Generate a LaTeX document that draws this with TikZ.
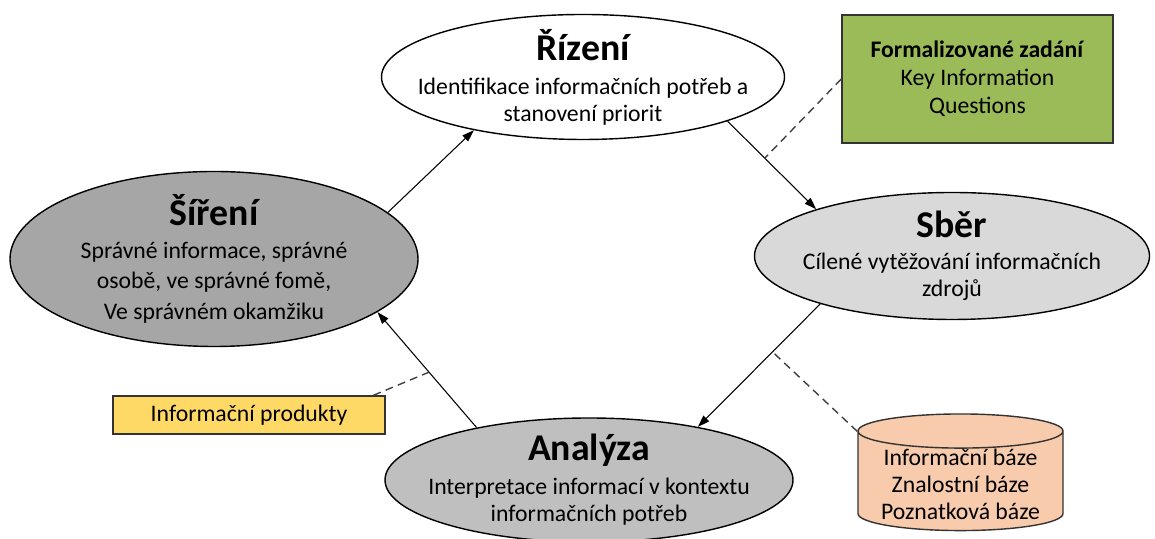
\documentclass[tikz,border=0pt]{standalone}
\usepackage{fontspec}
\setmainfont{Carlito}
\usetikzlibrary{arrows.meta, shapes.geometric}
\definecolor{sirenigray}{HTML}{A6A6A6}
\definecolor{sbergray}{HTML}{D9D9D9}
\definecolor{analyzagray}{HTML}{BFBFBF}
\definecolor{kiqgreen}{HTML}{9BBB59}
\definecolor{produktyellow}{HTML}{FFD966}
\definecolor{bazepeach}{HTML}{F8CBAD}
\newcommand{\phasetitle}[1]{{\fontsize{21.5}{24}\selectfont\bfseries #1}}

\begin{document}
\begin{tikzpicture}[
      phase/.style={ellipse, draw, line width=0.8pt},
      phasetext/.style={align=center, font=\fontsize{13.5}{15.3}\selectfont, inner sep=0pt},
      note/.style={rectangle, draw=black!80, line width=0.8pt, align=center, font=\fontsize{13.5}{16}\selectfont},
      arrow/.style={-{Triangle[length=2.4mm, width=1.6mm]}, line width=0.6pt},
      link/.style={dash pattern=on 4.5pt off 3pt, line width=0.8pt, draw=black!75}
    ]
    \useasboundingbox (0,0) rectangle (23.1,10.78);

    % cycle phases
    \node[phase, fill=white, minimum width=8.06cm, minimum height=2.5cm,
      label={[phasetext]center:{\phasetitle{Řízení}\\[4pt]Identifikace informačních potřeb a\\stanovení priorit}}]
      (rizeni) at (11.66,9.24) {};
    \node[phase, fill=sbergray, minimum width=7.9cm, minimum height=2.54cm,
      label={[phasetext]center:{\phasetitle{Sběr}\\[3pt]Cílené vytěžování informačních\\zdrojů}}]
      (sber) at (19.04,5.66) {};
    \node[phase, fill=analyzagray, minimum width=8.16cm, minimum height=2.48cm,
      label={[phasetext]center:{\phasetitle{Analýza}\\[4pt]Interpretace informací v kontextu\\informačních potřeb}}]
      (analyza) at (11.78,1.18) {};
    \node[phase, fill=sirenigray, minimum width=8.16cm, minimum height=3.5cm,
      label={[phasetext, font=\fontsize{13.5}{17.5}\selectfont]center:{\phasetitle{Šíření}\\[1pt]Správné informace, správné\\osobě, ve správné fomě,\\Ve správném okamžiku}}]
      (sireni) at (4.28,5.6) {};

    % side notes
    \node[note, fill=kiqgreen, minimum width=5.42cm, minimum height=2.56cm] (kiq) at (19.55,9.2)
      {\textbf{Formalizované zadání}\\Key Information\\Questions};
    \node[note, fill=produktyellow, minimum width=5.44cm, minimum height=0.76cm] (produkty) at (4.98,2.48)
      {Informační produkty};
    \node[cylinder, shape border rotate=90, aspect=0.2, draw=black!80, line width=0.8pt, fill=bazepeach,
      minimum width=4.1cm, minimum height=2.3cm, inner ysep=0pt, align=center, font=\fontsize{13.5}{15.3}\selectfont]
      (baze) at (19.21,1.1) {Informační báze\\Znalostní báze\\Poznatková báze};

    % cycle
    \draw[arrow] (sireni.15) -- (rizeni.206);
    \draw[arrow] (rizeni.343) -- coordinate[pos=0.42] (kiqpt) (sber.161);
    \draw[arrow] (sber.200) -- coordinate[pos=0.39] (bazept) (analyza.26);
    \draw[arrow] (analyza.155) -- coordinate[pos=0.48] (produktpt) (sireni.342);

    % note links
    \draw[link] (kiq.west) -- (kiqpt);
    \draw[link] (baze.153) -- (bazept);
    \draw[link] (produkty.9) -- (produktpt);
\end{tikzpicture}
\end{document}
